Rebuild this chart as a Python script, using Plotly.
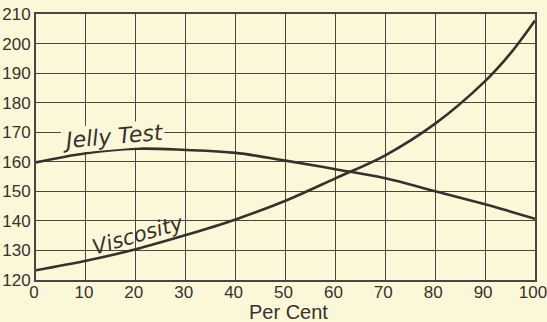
import plotly.graph_objects as go

per_cent = [0, 10, 20, 30, 40, 50, 60, 70, 80, 90, 95, 100]
jelly_test = [159.8, 162.9, 164.4, 164.0, 163.0, 160.4, 157.5, 154.4, 150.0, 145.6, 143.2, 140.7]
viscosity = [123.3, 126.5, 130.4, 135.2, 140.5, 146.8, 154.4, 162.2, 172.9, 187.3, 196.5, 207.8]

x_ticks = list(range(0, 101, 10))
y_ticks = list(range(120, 211, 10))

bg = "#FBF8DA"
ink = "#3a2f2b"
grid = "#4d4440"
font = "Liberation Sans"
label_font = "DejaVu Sans"

fig = go.Figure()
fig.add_trace(go.Scatter(x=per_cent, y=jelly_test, mode="lines",
                         line=dict(color=ink, width=2.6, shape="spline", smoothing=1.0),
                         name="Jelly Test", showlegend=False))
fig.add_trace(go.Scatter(x=per_cent, y=viscosity, mode="lines",
                         line=dict(color=ink, width=2.6, shape="spline", smoothing=1.0),
                         name="Viscosity", showlegend=False))

fig.add_annotation(x=15.4, y=168.4, text="Jelly Test", showarrow=False, textangle=-5,
                   font=dict(family=label_font, size=22, color=ink, style="italic"),
                   bgcolor=bg, borderpad=0)
fig.add_annotation(x=20.4, y=135.2, text="Viscosity", showarrow=False, textangle=-16,
                   font=dict(family=label_font, size=21, color=ink, style="italic"))
fig.add_annotation(x=50.6, y=-0.12, yref="paper", text="Per Cent", showarrow=False,
                   xanchor="center", yanchor="middle",
                   font=dict(family=font, size=20, color=ink))

fig.update_layout(
    width=547, height=322,
    margin=dict(l=36, r=12, t=14, b=42),
    paper_bgcolor=bg, plot_bgcolor=bg,
    font=dict(family=font, size=17, color=ink),
    xaxis=dict(range=[0, 100], tickvals=x_ticks, ticktext=[str(v) for v in x_ticks],
               showgrid=True, gridcolor=grid, gridwidth=1.4, zeroline=False,
               showline=True, linecolor=grid, linewidth=2, mirror=True,
               ticks="", ticklabelstandoff=-4, automargin=False,
               ticklabelshift=-2, ticklabeloverflow="allow"),
    yaxis=dict(range=[120, 210], tickvals=y_ticks, ticktext=[str(v) for v in y_ticks],
               showgrid=True, gridcolor=grid, gridwidth=1.4, zeroline=False,
               showline=True, linecolor=grid, linewidth=2, mirror=True,
               ticks="", ticklabelstandoff=0, automargin=False,
               ticklabeloverflow="allow"),
)

fig.write_html("out.html", config={"displayModeBar": False},
               post_script="document.body.style.margin='0';document.body.style.overflow='hidden';document.body.style.background='%s';" % bg)
